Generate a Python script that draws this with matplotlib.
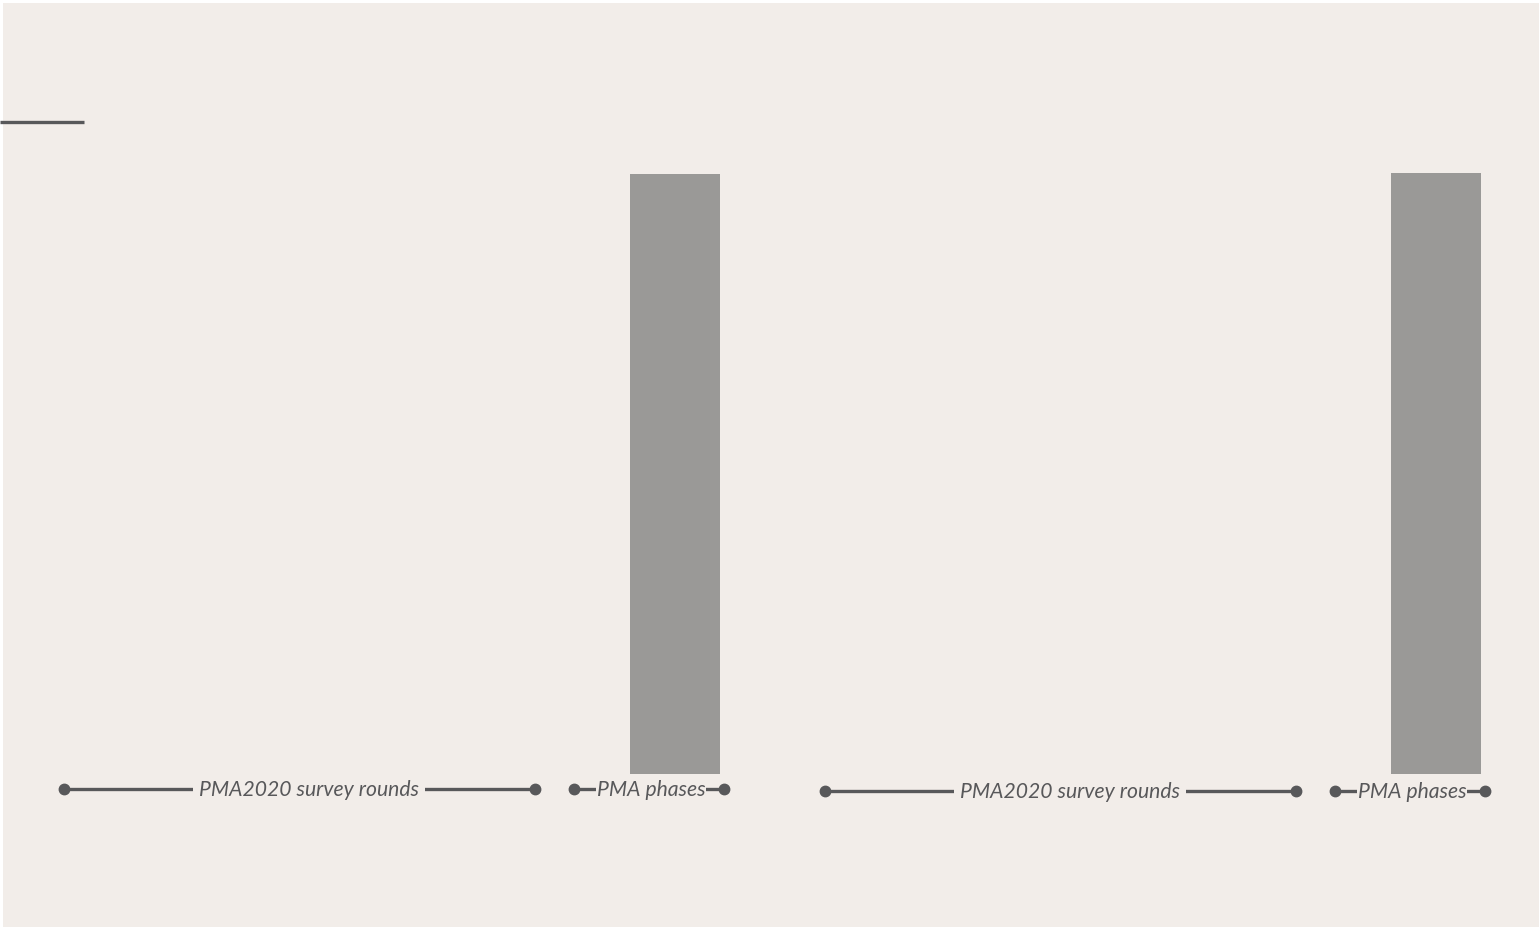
import matplotlib
matplotlib.use("Agg")
import matplotlib.pyplot as plt
import matplotlib.transforms as mtransforms
from matplotlib.patches import Rectangle
from matplotlib.lines import Line2D
import numpy as np

# ---------------- data ----------------
categories = ["Round 1", "Round 2", "Round 3", "Round 4", "Round 5", "Phase 1", "Phase 2"]
panel_a_values = [np.nan, np.nan, np.nan, np.nan, np.nan, np.nan, 100]
panel_b_values = [np.nan, np.nan, np.nan, np.nan, np.nan, np.nan, 100]
group_labels = ["PMA2020 survey rounds", "PMA phases"]
group_rounds = ["Round 1", "Round 5"]
group_phases = ["Phase 1", "Phase 2"]

# ---------------- style ----------------
W, H, DPI = 1539, 928, 100
BG = "#F2EDE9"
BAR = "#9A9997"
INK = "#58585A"
FONT = ["Lato", "DejaVu Sans"]

fig = plt.figure(figsize=(W / DPI, H / DPI), dpi=DPI, facecolor=BG)

# white frame strips (top, left)
fig.patches.append(Rectangle((0, 1 - 4 / H), 1, 4 / H, transform=fig.transFigure,
                             facecolor="white", edgecolor="none", zorder=0))
fig.patches.append(Rectangle((0, 0), 3 / W, 1, transform=fig.transFigure,
                             facecolor="white", edgecolor="none", zorder=0))

# short rule at top left
fig.lines.append(Line2D([0, 84 / W], [1 - 122.5 / H, 1 - 122.5 / H], transform=fig.transFigure,
                        color=INK, lw=2.4, solid_capstyle="butt"))


def px_rect(x0, x1, ytop, ybot):
    return [x0 / W, 1 - ybot / H, (x1 - x0) / W, (ybot - ytop) / H]


def draw_panel(rect, values, bracket_y):
    ax = fig.add_axes(rect)
    ax.set_facecolor("none")
    x = np.arange(len(categories))
    ax.bar(x, values, width=0.9, color=BAR, zorder=2)
    ax.set_xlim(-0.75, 6.85)
    ax.set_ylim(0, 100)
    for s in ax.spines.values():
        s.set_visible(False)
    ax.set_xticks([])
    ax.set_yticks([])
    trans = mtransforms.blended_transform_factory(ax.transData, ax.transAxes)

    def bracket(x0, x1, label, pad, shift_px):
        ax.plot([x0, x1], [bracket_y, bracket_y], transform=trans, color=INK, lw=2.4,
                marker="o", markersize=7.5, markevery=[0, 1], clip_on=False, zorder=3,
                solid_capstyle="butt")
        ttrans = mtransforms.offset_copy(trans, fig=fig, x=shift_px, y=0, units="dots")
        ax.text((x0 + x1) / 2, bracket_y, label, transform=ttrans, ha="center", va="center",
                fontsize=15.2, style="italic", color=INK, family=FONT, zorder=4, clip_on=False,
                bbox=dict(facecolor=BG, edgecolor="none", pad=pad))

    i0 = categories.index(group_rounds[0])
    i1 = categories.index(group_rounds[1])
    bracket(i0 - 0.11, i1 + 0.6, group_labels[0], 4.3, 9.5)
    j0 = categories.index(group_phases[0])
    j1 = categories.index(group_phases[1])
    bracket(j0 - 0.01, j1 + 0.49, group_labels[1], 0.3, 2)
    return ax


draw_panel(px_rect(0, 760, 175, 775), panel_a_values, (775 - 790) / (775 - 175))
draw_panel(px_rect(761, 1521, 174, 775), panel_b_values, (775 - 792) / (775 - 174))

fig.savefig("out.png", dpi=DPI, facecolor=BG)
